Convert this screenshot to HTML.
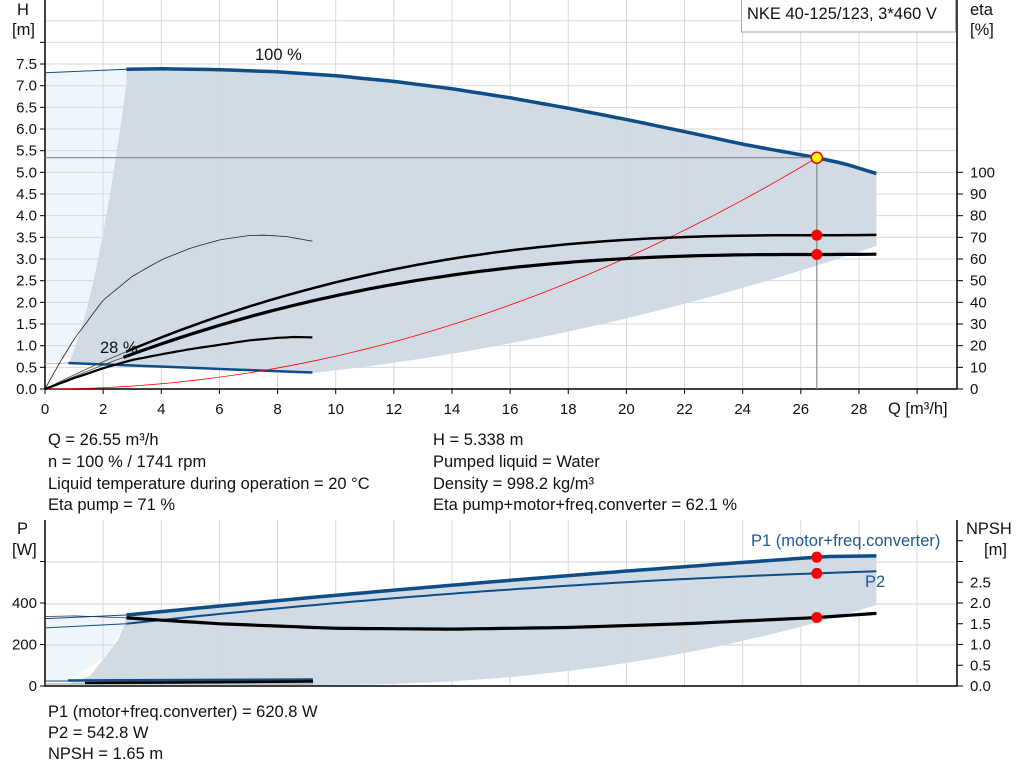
<!DOCTYPE html>
<html><head><meta charset="utf-8"><style>
body{margin:0;background:#fff;}
svg{display:block;font-family:"Liberation Sans",Arial,sans-serif;}
text{font-size:15px;fill:#111;}
text.b{font-size:16.5px;}
</style></head><body>
<svg id="s" width="1024" height="781" xmlns="http://www.w3.org/2000/svg"></svg>
<script>
const s=document.getElementById('s');
const NS='http://www.w3.org/2000/svg';
function el(t,a,txt){const e=document.createElementNS(NS,t);for(const k in a)e.setAttribute(k,a[k]);if(txt!==undefined)e.textContent=txt;s.appendChild(e);return e;}
const X=q=>45+q*29.07, Yh=h=>389-h*43.33, Yp=p=>686-p*0.2075, Yn=n=>686-n*41.5;
function interp(pts,q){for(let i=0;i<pts.length-1;i++){if(q<=pts[i+1][0]){const [a,b]=pts[i],[c,d]=pts[i+1];const t=(q-a)/(c-a);return b+(d-b)*t;}}return pts[pts.length-1][1];}
function sample(f,a,b,n){const r=[];for(let i=0;i<=n;i++){const q=a+(b-a)*i/n;r.push([q,f(q)]);}return r;}
function pathXY(arr){return arr.map((p,i)=>(i?'L':'M')+p[0].toFixed(1)+' '+p[1].toFixed(1)).join(' ');}
function line(x1,y1,x2,y2,c,w){el('line',{x1,y1,x2,y2,stroke:c,'stroke-width':w});}
const grid='#d9d9d9', blue='#0e4d86', shade='#d0dbe6', light='#eef5fc';

// ---------- TOP CHART ----------
const Hp=[[2.8,7.38],[4,7.39],[6,7.37],[8,7.32],[10,7.23],[12,7.1],[14,6.93],[16,6.72],[18,6.48],[20,6.22],[22,5.94],[24,5.65],[26.55,5.338],[27.5,5.2],[28.6,4.97]];
const H100=q=>interp(Hp,q);
const etaP=q=>{const u=1-q/26.55;return 71*(1-Math.sign(u)*Math.pow(Math.abs(u),2.5))/20;};
const etaT=q=>{const u=1-q/26.55;return 62.1*(1-Math.sign(u)*Math.pow(Math.abs(u),2.5))/20;};
const H28=q=>0.6-(q-0.8)*(0.22/8.4);
const lowB=q=>0.004*q*q+0.03;
const leftB=q=>0.9*q*q;
let lp=[[X(0),Yh(7.3)],[X(2.8),Yh(7.38)]];
for(let q=2.8;q>=0.8;q-=0.1)lp.push([X(q),Yh(Math.max(0.6,leftB(q)))]);
lp.push([X(0),Yh(0.58)]);
el('path',{d:pathXY(lp)+'Z',fill:light});
let dp=sample(H100,2.8,28.6,60).map(p=>[X(p[0]),Yh(p[1])]);
dp=dp.concat(sample(lowB,28.6,9.2,40).map(p=>[X(p[0]),Yh(p[1])]));
dp=dp.concat(sample(H28,9.2,0.85,20).map(p=>[X(p[0]),Yh(p[1])]));
for(let q=0.85;q<=2.8;q+=0.05)dp.push([X(q),Yh(Math.max(0.6,leftB(q)))]);
el('path',{d:pathXY(dp)+'Z',fill:shade});
for(let q=2;q<=30;q+=2)line(X(q),0,X(q),389,grid,1);
for(let h=0.5;h<=9;h+=0.5)line(45,Yh(h),957,Yh(h),grid,1);
line(45,0,45,389,'#000',1.5);line(957,0,957,389,'#000',1.5);line(45,389,957,389,'#000',1.5);
for(let h=0;h<=8.01;h+=0.5){line(40,Yh(h),45,Yh(h),'#000',1);if(h<7.6)el('text',{x:37,y:Yh(h)+5,'text-anchor':'end'},h.toFixed(1));}
for(let e=0;e<=100;e+=10){const y=Yh(e/20);line(957,y,963,y,'#000',1);el('text',{x:970,y:y+5},String(e));}
for(let q=0;q<=30;q+=2){line(X(q),389,X(q),394,'#000',1);if(q<=28)el('text',{x:X(q),y:414,'text-anchor':'middle'},String(q));}
el('text',{x:888,y:414,class:'b'},'Q [m³/h]');
el('text',{x:17,y:15,class:'b'},'H');el('text',{x:12,y:35,class:'b'},'[m]');
el('text',{x:970,y:15,class:'b'},'eta');el('text',{x:970,y:35,class:'b'},'[%]');
el('rect',{x:741.5,y:-1,width:214,height:33,fill:'#fff',stroke:'#aaa','stroke-width':1});
el('text',{x:747,y:19,class:'b'},'NKE 40-125/123, 3*460 V');
el('path',{d:pathXY([[X(0),Yh(7.3)],[X(2.8),Yh(7.38)]]),stroke:blue,'stroke-width':1,fill:'none'});
el('path',{d:pathXY(sample(H100,2.8,28.6,80).map(p=>[X(p[0]),Yh(p[1])])),stroke:blue,'stroke-width':3.5,fill:'none'});
el('path',{d:pathXY([[X(0),Yh(0.58)],[X(0.8),Yh(0.6)]]),stroke:'#bbb','stroke-width':1,fill:'none'});
el('path',{d:pathXY(sample(H28,0.8,9.2,10).map(p=>[X(p[0]),Yh(p[1])])),stroke:blue,'stroke-width':2.5,fill:'none'});
el('path',{d:pathXY(sample(q=>5.338*Math.pow(q/26.55,2),0,26.55,60).map(p=>[X(p[0]),Yh(p[1])])),stroke:'#f00','stroke-width':0.8,fill:'none'});
const thin=[[0,0],[0.5,0.6],[1,1.15],[2,2.05],[3,2.6],[4,2.98],[5,3.25],[6,3.44],[7,3.54],[7.5,3.55],[8.3,3.52],[9.2,3.41]];
el('path',{d:pathXY(sample(q=>interp(thin,q),0,9.2,80).map(p=>[X(p[0]),Yh(p[1])])),stroke:'#222','stroke-width':0.8,fill:'none'});
el('path',{d:pathXY(sample(etaP,0,2.8,10).map(p=>[X(p[0]),Yh(p[1])])),stroke:'#444','stroke-width':0.8,fill:'none'});
el('path',{d:pathXY(sample(etaP,2.8,28.6,80).map(p=>[X(p[0]),Yh(p[1])])),stroke:'#000','stroke-width':2.5,fill:'none'});
el('path',{d:pathXY(sample(etaT,0,2.7,10).map(p=>[X(p[0]),Yh(p[1])])),stroke:'#444','stroke-width':0.8,fill:'none'});
el('path',{d:pathXY(sample(etaT,2.7,28.6,80).map(p=>[X(p[0]),Yh(p[1])])),stroke:'#000','stroke-width':3.2,fill:'none'});
const low=[[0,0],[1,0.25],[2,0.48],[3,0.67],[4,0.8],[5,0.92],[6,1.02],[7,1.12],[8,1.18],[8.6,1.2],[9.2,1.19]];
el('path',{d:pathXY(sample(q=>interp(low,q),0,9.2,60).map(p=>[X(p[0]),Yh(p[1])])),stroke:'#000','stroke-width':2.2,fill:'none'});
el('text',{x:255,y:60,class:'b'},'100 %');el('text',{x:100,y:353,class:'b'},'28 %');
line(45,Yh(5.338),X(26.55),Yh(5.338),'#888',1.2);line(X(26.55),Yh(5.338),X(26.55),389,'#888',1.2);
el('circle',{cx:X(26.55),cy:Yh(5.338),r:5.5,fill:'#ff0',stroke:'#e00','stroke-width':1.5});
el('circle',{cx:X(26.55),cy:Yh(3.55),r:5.5,fill:'#f00'});
el('circle',{cx:X(26.55),cy:Yh(3.105),r:5.5,fill:'#f00'});
[['Q = 26.55 m³/h',445],['n = 100 % / 1741 rpm',467],['Liquid temperature during operation = 20 °C',489],['Eta pump = 71 %',510]].forEach(t=>el('text',{x:48,y:t[1],class:'b'},t[0]));
[['H = 5.338 m',445],['Pumped liquid = Water',467],['Density = 998.2 kg/m³',489],['Eta pump+motor+freq.converter = 62.1 %',510]].forEach(t=>el('text',{x:433,y:t[1],class:'b'},t[0]));

// ---------- BOTTOM CHART ----------
const P1=q=>Math.min(302.6+14.32*q-0.088*q*q,626+(q-28)*2);
const P2=q=>255.4+16.54*q-0.215*q*q;
const npsh=[[2.8,1.64],[6,1.5],[10,1.39],[14,1.37],[18,1.41],[22,1.5],[26.55,1.65],[28.6,1.75]];
const lowPf=q=>686-80*Math.pow(Math.max(0,(q-9.2)/19.4),2.2)-1;
let lp2=[[45,Yp(325)],[X(2.8),Yp(342)],[X(2.8),623],[105,657],[69,680],[45,680]];
el('path',{d:pathXY(lp2)+'Z',fill:light});
let bp=sample(P1,2.8,28.6,60).map(p=>[X(p[0]),Yp(p[1])]);
bp=bp.concat(sample(lowPf,28.6,9.2,40).map(p=>[X(p[0]),p[1]]));
bp.push([68,684],[90,676],[105,657],[118,640],[125,623]);
el('path',{d:pathXY(bp)+'Z',fill:shade});
for(let q=2;q<=30;q+=2)line(X(q),520,X(q),686,grid,1);
[562,604,645].forEach(y=>line(45,y,957,y,grid,1.2));
line(45,520,45,686,'#000',1.5);line(957,520,957,686,'#000',1.5);line(45,686,957,686,'#000',1.5);
[0,200,400,600].forEach(p=>{line(40,Yp(p),45,Yp(p),'#000',1);if(p<600)el('text',{x:37,y:Yp(p)+5,'text-anchor':'end'},String(p));});
for(let n=0;n<=3.51;n+=0.5){line(957,Yn(n),963,Yn(n),'#000',1);if(n<2.6)el('text',{x:970,y:Yn(n)+5},n.toFixed(1));}
el('text',{x:17,y:534,class:'b'},'P');el('text',{x:12,y:555,class:'b'},'[W]');
el('text',{x:966,y:534,class:'b'},'NPSH');el('text',{x:984,y:555,class:'b'},'[m]');
el('path',{d:pathXY([[45,Yp(325)],[X(2.8),Yp(342)]]),stroke:blue,'stroke-width':1,fill:'none'});
el('path',{d:pathXY([[45,Yp(280)],[X(2.8),Yp(300)]]),stroke:blue,'stroke-width':1,fill:'none'});
el('path',{d:pathXY([[45,Yp(335)],[75,Yp(338)],[X(2.8),Yn(1.64)]]),stroke:'#333','stroke-width':0.8,fill:'none'});
el('path',{d:pathXY(sample(P1,2.8,28.6,80).map(p=>[X(p[0]),Yp(p[1])])),stroke:blue,'stroke-width':3.5,fill:'none'});
el('path',{d:pathXY(sample(P2,2.8,28.6,80).map(p=>[X(p[0]),Yp(p[1])])),stroke:blue,'stroke-width':2,fill:'none'});
el('path',{d:pathXY(sample(q=>interp(npsh,q),2.8,28.6,80).map(p=>[X(p[0]),Yn(p[1])])),stroke:'#000','stroke-width':3.2,fill:'none'});
line(45,684,313,684,'#999',1);
line(45,681,68,681,blue,1);line(68,680.5,313,679.5,blue,2.5);
line(85,683,313,681.5,'#000',2.5);
el('circle',{cx:X(26.55),cy:Yp(620.8),r:5.5,fill:'#f00'});
el('circle',{cx:X(26.55),cy:Yp(542.8),r:5.5,fill:'#f00'});
el('circle',{cx:X(26.55),cy:Yn(1.65),r:5.5,fill:'#f00'});
el('text',{x:751,y:546,class:'b',style:'fill:#1d5a94'},'P1 (motor+freq.converter)');
el('text',{x:865,y:587,class:'b',style:'fill:#1d5a94'},'P2');
[['P1 (motor+freq.converter) = 620.8 W',717],['P2 = 542.8 W',738],['NPSH = 1.65 m',759]].forEach(t=>el('text',{x:48,y:t[1],class:'b'},t[0]));
</script>
</body></html>
